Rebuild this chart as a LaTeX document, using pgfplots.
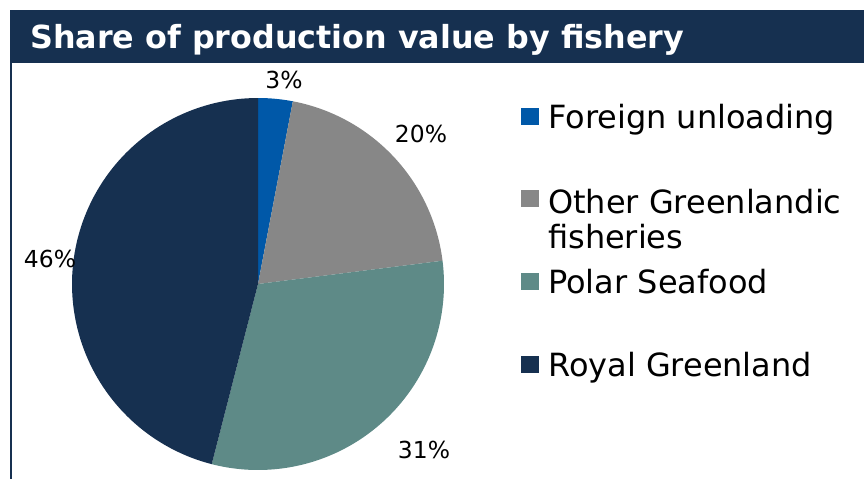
\documentclass[border=0pt]{standalone}
\usepackage{pgfplots}
\pgfplotsset{compat=1.18}
\usepackage{fontspec}
\setmainfont{DejaVu Sans}
\definecolor{navy}{RGB}{22,48,80}
\definecolor{fblue}{RGB}{0,88,168}
\definecolor{fgray}{RGB}{135,135,135}
\definecolor{fteal}{RGB}{94,138,135}
% shares (percent)
\def\vA{3}\def\vB{20}\def\vC{31}\def\vD{46}
\newcommand{\slice}[3]{%
  \pgfmathsetmacro\angA{90-3.6*(#1)}%
  \pgfmathsetmacro\angB{90-3.6*(#1+#2)}%
  \addplot[fill=#3, draw=none, domain=\angB:\angA, samples=100, variable=\t]
    ({258+186*cos(\t)},{284-186*sin(\t)}) -- (axis cs:258,284) -- cycle;
}
\begin{document}
\begin{tikzpicture}
\begin{axis}[width=864bp, height=479bp, scale only axis,
  xmin=0, xmax=864, ymin=0, ymax=479, y dir=reverse,
  hide axis, clip=false]
\path (axis cs:0,0) rectangle (axis cs:864,479);
% title bar
\fill[navy] (axis cs:10,10) rectangle (axis cs:864,63);
\draw[navy, line width=2bp] (axis cs:11,63) -- (axis cs:11,479);
\node[anchor=base west, text=white, font=\fontsize{31.9}{36}\selectfont\bfseries, inner sep=0pt]
  at (axis cs:30,48.5) {Share of production value by fishery};
% pie
\slice{0}{\vA}{fblue}
\slice{\vA}{\vB}{fgray}
\slice{\vA+\vB}{\vC}{fteal}
\slice{\vA+\vB+\vC}{\vD}{navy}
% data labels
\begin{scope}[every node/.style={font=\fontsize{23.5}{28}\selectfont, inner sep=0pt, anchor=base}]
\node at (axis cs:284,89) {3\%};
\node at (axis cs:421,142) {20\%};
\node at (axis cs:424,458) {31\%};
\node at (axis cs:50,267) {46\%};
\end{scope}
% legend
\begin{scope}[every node/.style={font=\fontsize{32.1}{35}\selectfont, inner sep=0pt, anchor=base west, align=left}]
\fill[fblue] (axis cs:521,108) rectangle (axis cs:538.5,125);
\node at (axis cs:548,128) {Foreign unloading};
\fill[fgray] (axis cs:521,190) rectangle (axis cs:538.5,207);
\node at (axis cs:548,213) {Other Greenlandic};
\node at (axis cs:548,248) {fisheries};
\fill[fteal] (axis cs:521,273) rectangle (axis cs:538.5,290);
\node at (axis cs:548,293) {Polar Seafood};
\fill[navy] (axis cs:521,356) rectangle (axis cs:538.5,373);
\node at (axis cs:548,376) {Royal Greenland};
\end{scope}
\end{axis}
\end{tikzpicture}
\end{document}
